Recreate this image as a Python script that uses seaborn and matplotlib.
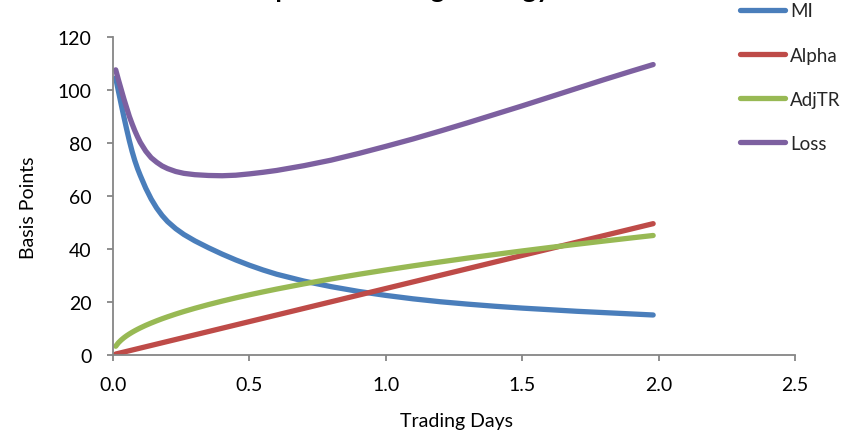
import matplotlib
matplotlib.use("Agg")
import matplotlib.pyplot as plt
import seaborn as sns
import pandas as pd

# Time grid (trading days) and the cost components in basis points
days = [0.01, 0.02, 0.03, 0.04, 0.05, 0.06, 0.07, 0.08, 0.09, 0.10,
        0.12, 0.14, 0.16, 0.18, 0.20, 0.23, 0.26, 0.30, 0.35, 0.40,
        0.45, 0.50, 0.55, 0.60, 0.70, 0.80, 0.90, 1.00, 1.10, 1.20,
        1.30, 1.40, 1.50, 1.60, 1.70, 1.80, 1.90, 1.98]
mi = [104.5, 99.5, 94.6, 89.8, 85.2, 80.8, 76.8, 73.3, 70.3, 67.7,
      62.9, 58.8, 55.4, 52.6, 50.3, 47.6, 45.4, 43.0, 40.4, 38.0,
      35.8, 33.8, 32.0, 30.4, 27.8, 25.7, 23.9, 22.4, 21.1, 20.0,
      19.1, 18.3, 17.6, 17.0, 16.4, 15.9, 15.4, 15.0]
alpha = [0.25, 0.5, 0.75, 1.0, 1.25, 1.5, 1.75, 2.0, 2.25, 2.5,
         3.0, 3.5, 4.0, 4.5, 5.0, 5.75, 6.5, 7.5, 8.75, 10.0,
         11.25, 12.5, 13.75, 15.0, 17.5, 20.0, 22.5, 25.0, 27.5, 30.0,
         32.5, 35.0, 37.5, 40.0, 42.5, 45.0, 47.5, 49.5]
adj_tr = [3.2, 4.53, 5.54, 6.4, 7.16, 7.84, 8.47, 9.05, 9.6, 10.12,
          11.09, 11.97, 12.8, 13.58, 14.31, 15.35, 16.32, 17.53, 18.93, 20.24,
          21.47, 22.63, 23.73, 24.79, 26.77, 28.62, 30.36, 32.0, 33.56, 35.05,
          36.49, 37.86, 39.19, 40.48, 41.72, 42.93, 44.11, 45.03]
loss = [107.6, 103.8, 100.2, 96.6, 93.3, 90.0, 87.2, 84.6, 82.3, 80.2,
        76.9, 74.4, 72.7, 71.3, 70.3, 69.2, 68.5, 68.0, 67.7, 67.6,
        67.8, 68.3, 68.9, 69.6, 71.4, 73.5, 76.0, 78.7, 81.5, 84.5,
        87.6, 90.8, 94.0, 97.3, 100.6, 103.9, 107.1, 109.6]

series_names = ["MI", "Alpha", "AdjTR", "Loss"]
series_values = [mi, alpha, adj_tr, loss]
colors = {"MI": "#4A7EBB", "Alpha": "#BE4B48", "AdjTR": "#98B954", "Loss": "#7D60A0"}

x_ticks = [0.0, 0.5, 1.0, 1.5, 2.0, 2.5]
y_ticks = [0, 20, 40, 60, 80, 100, 120]

frames = [pd.DataFrame({"days": days, "bp": vals, "series": name})
          for name, vals in zip(series_names, series_values)]
df = pd.concat(frames, ignore_index=True)

sns.set_theme(style="white")
plt.rcParams["font.family"] = ["Lato", "DejaVu Sans"]

fig = plt.figure(figsize=(8.42, 4.35), dpi=100)
ax = fig.add_axes([0.1342, 0.1823, 0.81, 0.7303])

sns.lineplot(data=df, x="days", y="bp", hue="series", hue_order=series_names,
             palette=colors, linewidth=3.8, legend=False, ax=ax, sort=False)
for line in ax.get_lines():
    line.set_solid_capstyle("round")
    line.set_solid_joinstyle("round")

ax.set_xlim(0, 2.5)
ax.set_ylim(0, 120)
ax.set_xticks(x_ticks)
ax.set_xticklabels([f"{v:.1f}" for v in x_ticks])
ax.set_yticks(y_ticks)
ax.set_yticklabels([str(v) for v in y_ticks])

axis_grey = "#868686"
for side in ("top", "right"):
    ax.spines[side].set_visible(False)
for side in ("left", "bottom"):
    ax.spines[side].set_color(axis_grey)
    ax.spines[side].set_linewidth(1.3)
ax.tick_params(axis="both", direction="out", length=4.5, width=1.3,
               color=axis_grey, labelsize=14, labelcolor="black", pad=11,
               bottom=True, left=True)
ax.grid(False)

ax.set_xlabel("Trading Days", fontsize=14, color="black")
ax.set_ylabel("Basis Points", fontsize=14, color="black")
ax.xaxis.set_label_coords(0.503, -0.18)
ax.yaxis.set_label_coords(-0.112, 0.465)

handles = ax.get_lines()[:4]
leg = ax.legend(handles, series_names, loc="upper left",
                bbox_to_anchor=(0.879, 0.992), bbox_transform=fig.transFigure,
                frameon=False, fontsize=13.5, handlelength=2.4, handletextpad=0.25,
                labelspacing=1.45, borderpad=0, borderaxespad=0)

fig.text(0.478, 1.004, "Optimal Trading Strategy", ha="center", va="baseline",
         fontsize=19, fontweight="bold", color="black")

fig.savefig("out.png", dpi=100)
